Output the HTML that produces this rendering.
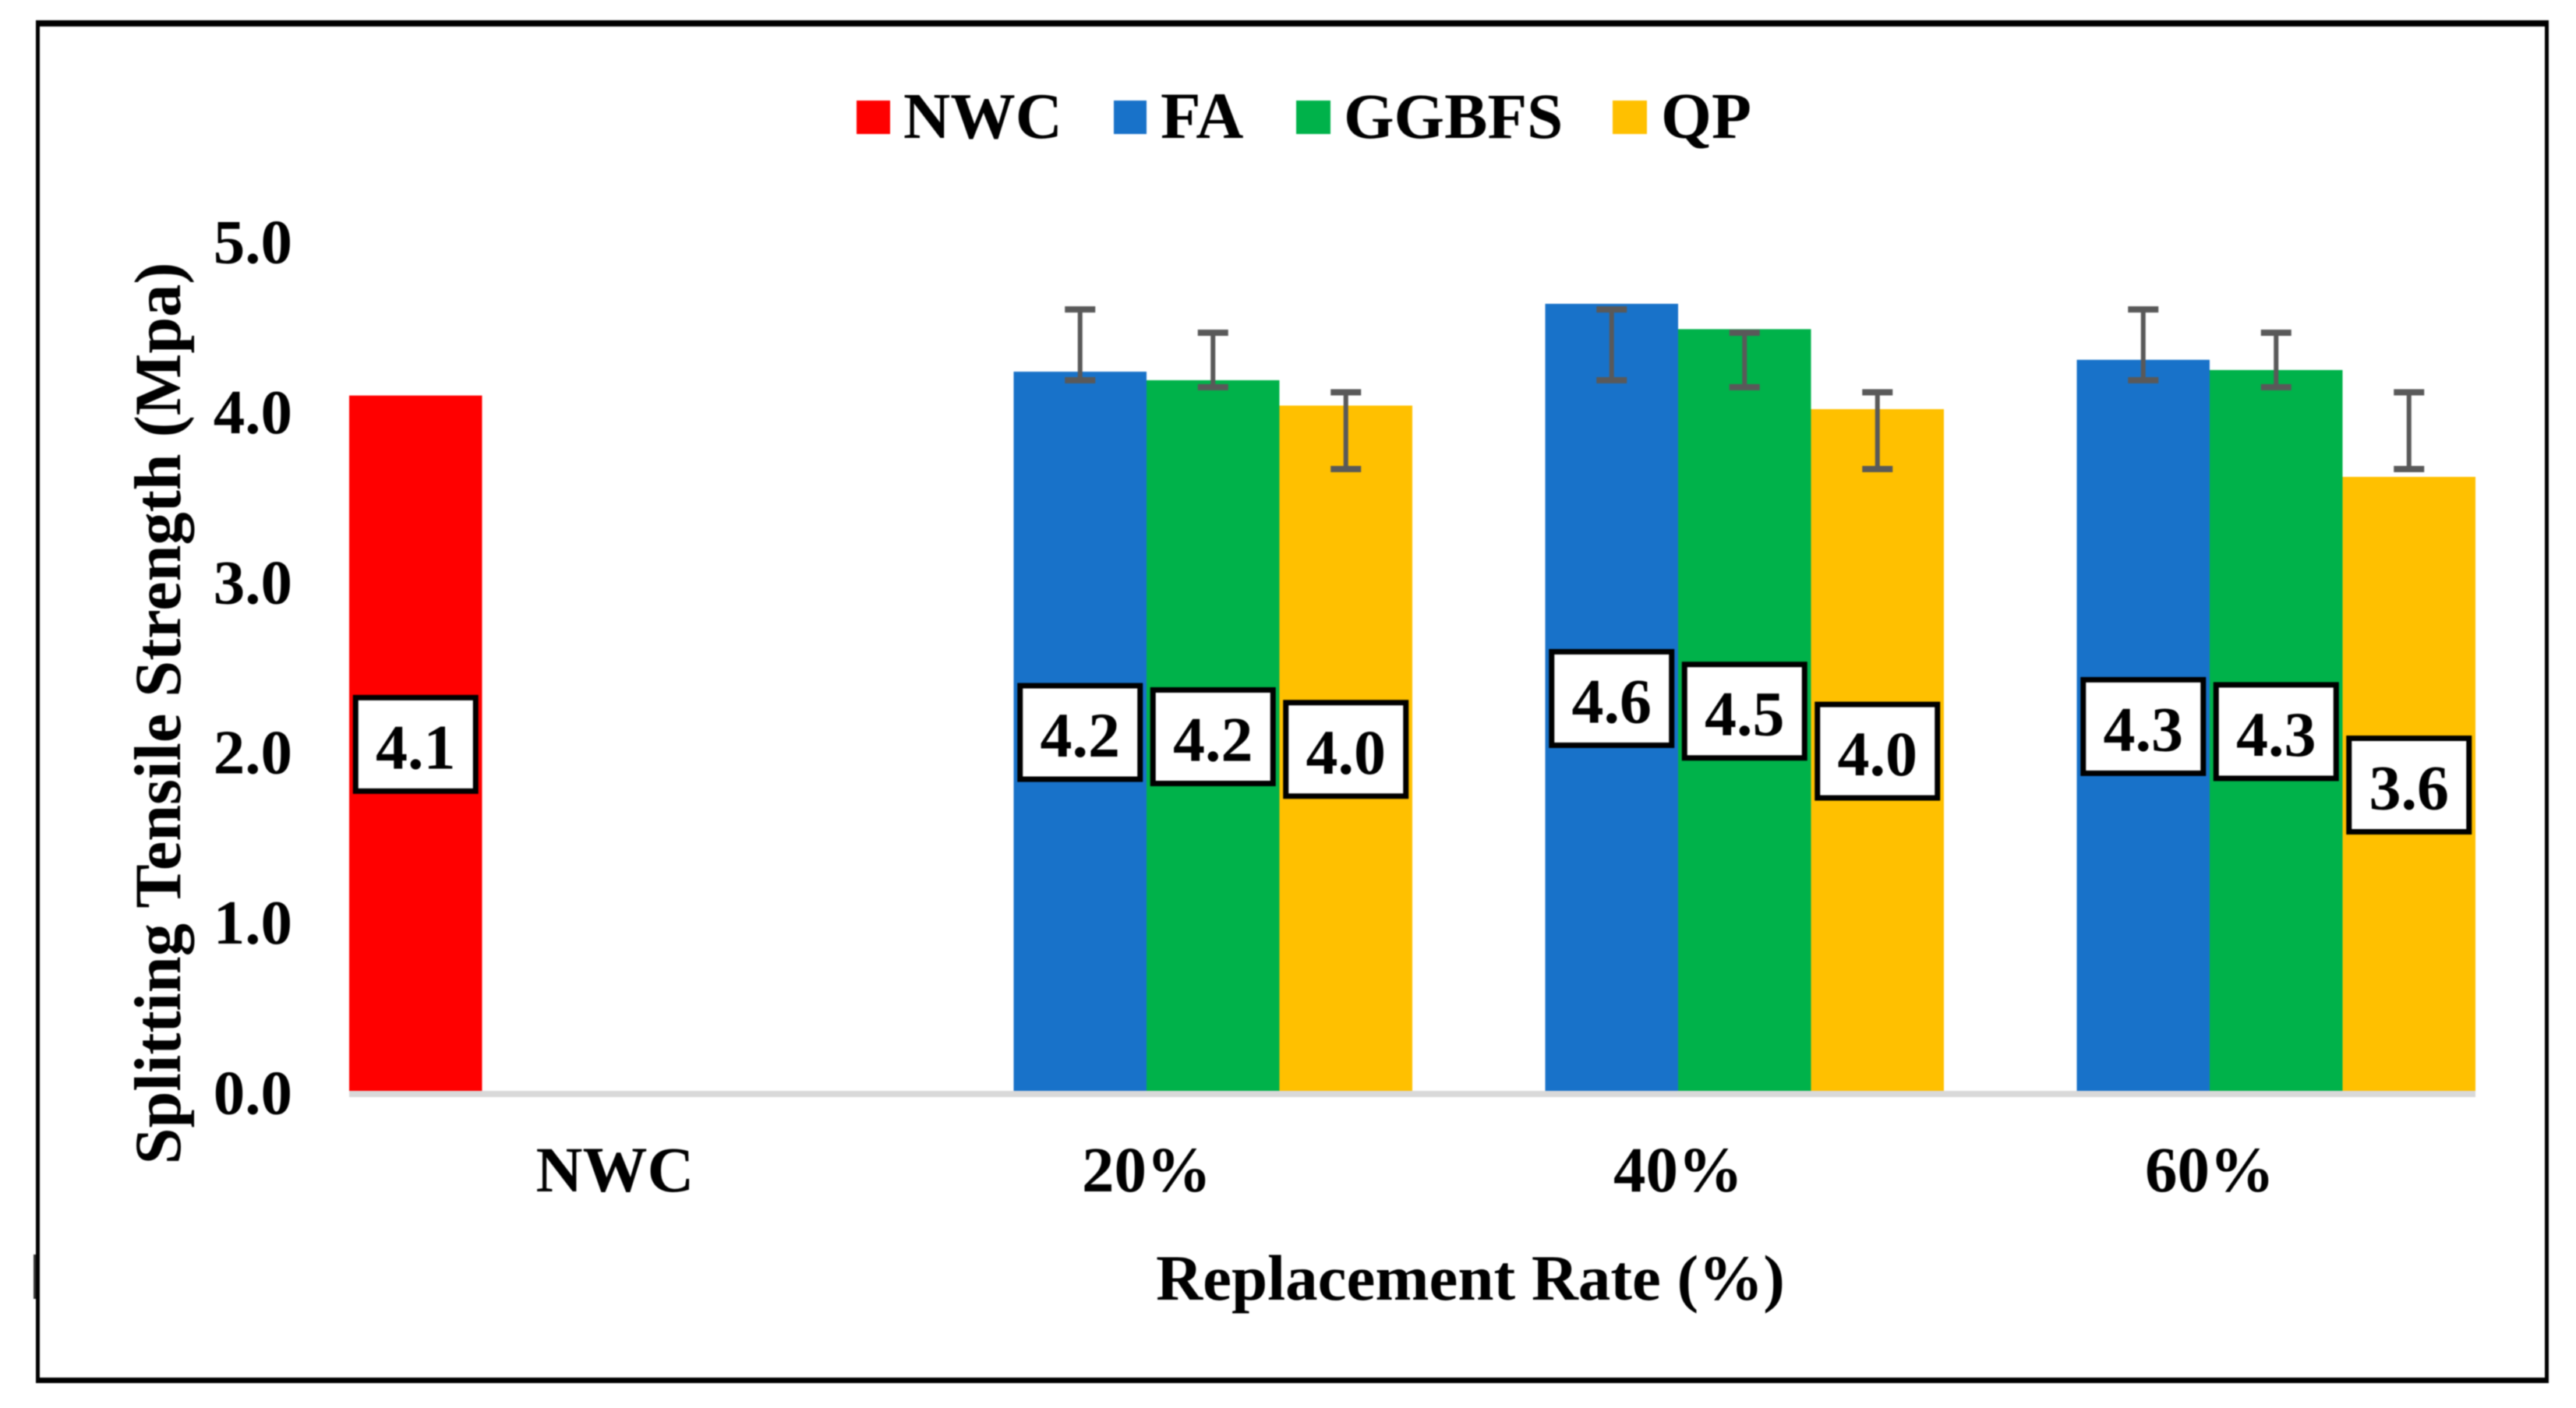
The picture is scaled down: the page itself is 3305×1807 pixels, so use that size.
<!DOCTYPE html>
<html lang="en">
<head>
<meta charset="utf-8">
<title>Splitting Tensile Strength by Replacement Rate</title>
<style>
  html, body { margin: 0; padding: 0; background: #ffffff; }
  svg { display: block; filter: blur(0.7px); }
  text { font-family: "Liberation Serif", serif; font-weight: bold; fill: #000000; }
</style>
</head>
<body>
<svg id="chart" xmlns="http://www.w3.org/2000/svg" width="3305" height="1807" viewBox="0 0 3305 1807">
  <rect x="0" y="0" width="3305" height="1807" fill="#ffffff"/>
  <g fill="#000000">
    <rect x="46" y="26" width="3224" height="8"/>
    <rect x="46" y="1768" width="3224" height="7"/>
    <rect x="46" y="26" width="5" height="1749"/>
    <rect x="3265" y="26" width="5" height="1749"/>
    <rect x="43" y="1610" width="3" height="57" fill="#333333"/>
  </g>

  <g id="legend">
    <g>
      <rect x="1099" y="129" width="43" height="43" fill="#ff0000"/>
      <text x="1159" y="177" font-size="83.5">NWC</text>
    </g>
    <g>
      <rect x="1429" y="129" width="42" height="43" fill="#1872c9"/>
      <text x="1489" y="177" font-size="84.5">FA</text>
    </g>
    <g>
      <rect x="1663" y="129" width="44" height="43" fill="#00b24a"/>
      <text x="1724" y="177" font-size="83">GGBFS</text>
    </g>
    <g>
      <rect x="2069" y="129" width="44" height="43" fill="#ffc000"/>
      <text x="2131" y="177" font-size="83.5">QP</text>
    </g>
  </g>

  <g id="y-ticks"></g>
  <g id="x-ticks"></g>
  <g id="bars"></g>
  <rect id="x-axis-line" x="448" y="1400" width="2728" height="8" fill="#d9d9d9"/>
  <g id="error-bars"></g>
  <g id="data-labels"></g>

  <text transform="translate(231 915.5) rotate(-90)" text-anchor="middle" font-size="84.3">Splitting Tensile Strength (Mpa)</text>
  <text x="1886.5" y="1668" text-anchor="middle" font-size="83">Replacement Rate (%)</text>
</svg>

<script>
// ---- chart data ----
const categories = ['NWC', '20%', '40%', '60%'];
const yTickValues = [0, 1, 2, 3, 4, 5];
const yTickLabels = ['0.0', '1.0', '2.0', '3.0', '4.0', '5.0'];

const seriesNames = ['NWC', 'FA', 'GGBFS', 'QP'];
const seriesColors = ['#ff0000', '#1872c9', '#00b24a', '#ffc000'];

const nwcValues = [4.086, null, null, null];
const faValues = [null, 4.226, 4.625, 4.296];
const ggbfsValues = [null, 4.176, 4.476, 4.236];
const qpValues = [null, 4.027, 4.006, 3.608];

const nwcPrinted = ['4.1', null, null, null];
const faPrinted = [null, '4.2', '4.6', '4.3'];
const ggbfsPrinted = [null, '4.2', '4.5', '4.3'];
const qpPrinted = [null, '4.0', '4.0', '3.6'];

const nwcErrHigh = [null, null, null, null];
const nwcErrLow = [null, null, null, null];
const faErrHigh = [null, 4.592, 4.592, 4.592];
const faErrLow = [null, 4.176, 4.176, 4.176];
const ggbfsErrHigh = [null, 4.455, 4.455, 4.455];
const ggbfsErrLow = [null, 4.135, 4.135, 4.135];
const qpErrHigh = [null, 4.105, 4.105, 4.105];
const qpErrLow = [null, 3.654, 3.654, 3.654];

const allValues = [nwcValues, faValues, ggbfsValues, qpValues];
const allPrinted = [nwcPrinted, faPrinted, ggbfsPrinted, qpPrinted];
const allErrHigh = [nwcErrHigh, faErrHigh, ggbfsErrHigh, qpErrHigh];
const allErrLow = [nwcErrLow, faErrLow, ggbfsErrLow, qpErrLow];

// ---- axis functions ----
const SVG_NS = 'http://www.w3.org/2000/svg';
const plotLeft = 448;
const plotRight = 3176;
const plotBaseline = 1400;
const pxPerUnit = 218.4;
const bandWidth = (plotRight - plotLeft) / categories.length;
const barWidth = bandWidth / seriesNames.length;

function yScale(v) { return plotBaseline - v * pxPerUnit; }
function xCenter(c) { return plotLeft + (c + 0.5) * bandWidth; }
function barLeft(c, s) { return xCenter(c) + (s - 2) * barWidth; }

function mk(tag, attrs, parent) {
  const el = document.createElementNS(SVG_NS, tag);
  for (const k in attrs) el.setAttribute(k, attrs[k]);
  parent.appendChild(el);
  return el;
}

// ---- y ticks ----
const yTicksGroup = document.getElementById('y-ticks');
yTickValues.forEach(function (v, i) {
  const t = mk('text', { x: 375, y: yScale(v) + 29.5, 'text-anchor': 'end', 'font-size': 81 }, yTicksGroup);
  
  
  t.textContent = yTickLabels[i];
});

// ---- x ticks ----
const xTicksGroup = document.getElementById('x-ticks');
categories.forEach(function (cat, c) {
  const t = mk('text', { x: xCenter(c), y: 1529, 'text-anchor': 'middle', 'font-size': 83 }, xTicksGroup);
  
  
  t.textContent = cat;
});

// ---- bars, error bars, labels ----
const barsGroup = document.getElementById('bars');
const errGroup = document.getElementById('error-bars');
const labelsGroup = document.getElementById('data-labels');
const errColor = '#595959';
const labelBoxW = 161;
const labelBoxH = 127;
const labelStroke = 7;

seriesNames.forEach(function (name, s) {
  categories.forEach(function (cat, c) {
    const v = allValues[s][c];
    if (v === null) return;
    const left = barLeft(c, s);
    const mid = left + barWidth / 2;

    const bar = mk('rect', { x: left, y: yScale(v), width: barWidth, height: plotBaseline - yScale(v), fill: seriesColors[s] }, barsGroup);
    
    

    const hi = allErrHigh[s][c];
    const lo = allErrLow[s][c];
    if (hi !== null && lo !== null) {
      const g = mk('g', { fill: errColor }, errGroup);
      
      
      mk('rect', { x: mid - 3, y: yScale(hi), width: 6, height: yScale(lo) - yScale(hi) }, g);
      mk('rect', { x: mid - 19.5, y: yScale(hi) - 4, width: 39, height: 8 }, g);
      mk('rect', { x: mid - 19.5, y: yScale(lo) - 4, width: 39, height: 8 }, g);
    }

    const cy = yScale(v / 2) + 1.5;
    const lg = mk('g', {}, labelsGroup);
    
    
    mk('rect', {
      x: mid - labelBoxW / 2 + labelStroke / 2,
      y: cy - labelBoxH / 2 + labelStroke / 2,
      width: labelBoxW - labelStroke,
      height: labelBoxH - labelStroke,
      fill: '#ffffff',
      stroke: '#000000',
      'stroke-width': labelStroke
    }, lg);
    const txt = mk('text', { x: mid, y: cy + 31, 'text-anchor': 'middle', 'font-size': 82 }, lg);
    txt.textContent = allPrinted[s][c];
  });
});
</script>
</body>
</html>
